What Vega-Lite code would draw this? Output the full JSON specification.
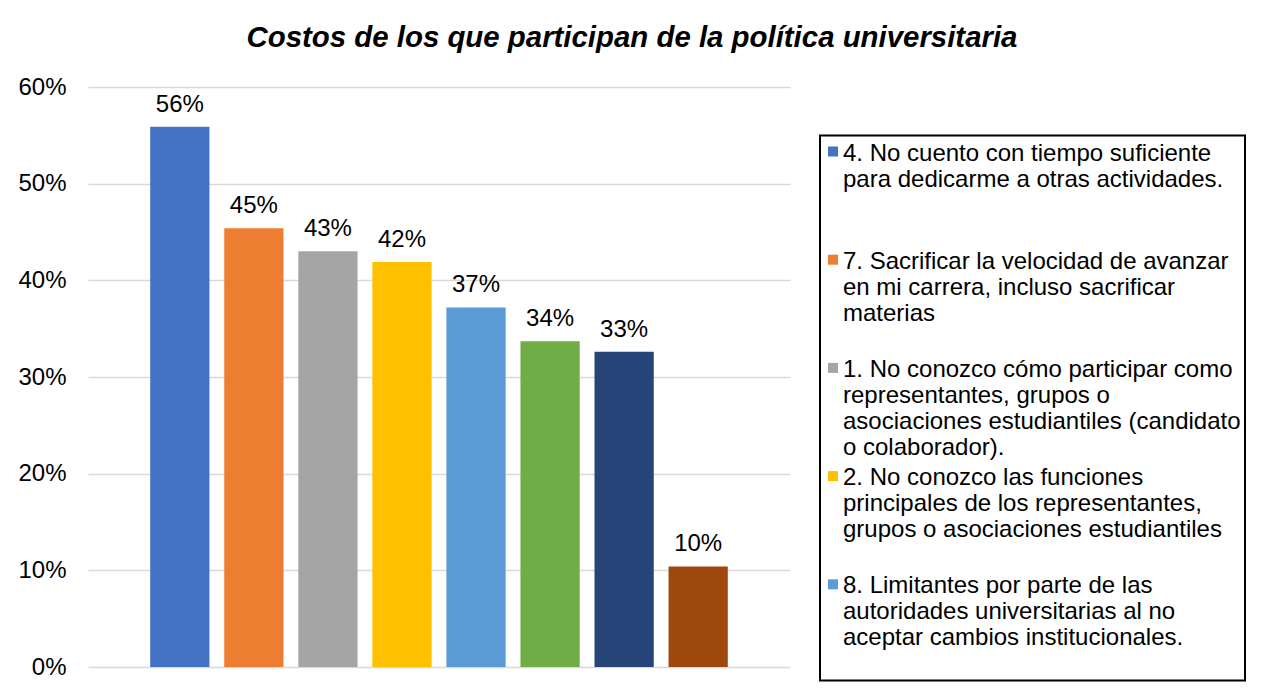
{
  "$schema": "https://vega.github.io/schema/vega-lite/v6.json",
  "width": 702,
  "height": 580,
  "autosize": "none",
  "padding": {"left": 88, "top": 87, "right": 473, "bottom": 30},
  "background": "white",
  "title": {
    "text": "Costos de los que participan de la política universitaria",
    "anchor": "middle",
    "frame": "bounds",
    "font": "Liberation Sans",
    "fontSize": 29.4,
    "fontWeight": "bold",
    "fontStyle": "italic",
    "color": "black",
    "offset": 22
  },
  "data": {
    "values": [
      {"costo": "4. No cuento con tiempo suficiente|para dedicarme a otras actividades.", "porcentaje": 0.559},
      {"costo": "7. Sacrificar la velocidad de avanzar|en mi carrera, incluso sacrificar|materias", "porcentaje": 0.454},
      {"costo": "1. No conozco cómo participar como|representantes, grupos o|asociaciones estudiantiles (candidato|o colaborador).", "porcentaje": 0.430},
      {"costo": "2. No conozco las funciones|principales de los representantes,|grupos o asociaciones estudiantiles", "porcentaje": 0.419},
      {"costo": "8. Limitantes por parte de las|autoridades universitarias al no|aceptar cambios institucionales.", "porcentaje": 0.372},
      {"costo": "3.", "porcentaje": 0.337},
      {"costo": "5.", "porcentaje": 0.326},
      {"costo": "6.", "porcentaje": 0.104}
    ]
  },
  "encoding": {
    "x": {
      "field": "costo",
      "type": "nominal",
      "sort": null,
      "axis": null,
      "scale": {"paddingInner": 0.2, "paddingOuter": 0.84}
    },
    "y": {
      "field": "porcentaje",
      "type": "quantitative",
      "scale": {"domain": [0, 0.6]},
      "axis": {
        "title": null,
        "format": ".0%",
        "values": [0, 0.1, 0.2, 0.3, 0.4, 0.5, 0.6],
        "domain": false,
        "ticks": false,
        "labelPadding": 22,
        "labelFont": "Liberation Sans",
        "labelFontSize": 24,
        "labelColor": "black",
        "gridColor": "#D9D9D9",
        "gridWidth": 1.5
      }
    }
  },
  "layer": [
    {
      "mark": {"type": "bar"},
      "encoding": {
        "color": {
          "field": "costo",
          "type": "nominal",
          "sort": null,
          "scale": {
            "range": ["#4472C4", "#ED7D31", "#A5A5A5", "#FFC000", "#5B9BD5", "#70AD47", "#264478", "#9E480E"]
          },
          "legend": {
            "orient": "none",
            "legendX": 732,
            "legendY": 48.5,
            "title": null,
            "values": [
              "4. No cuento con tiempo suficiente|para dedicarme a otras actividades.",
              "7. Sacrificar la velocidad de avanzar|en mi carrera, incluso sacrificar|materias",
              "1. No conozco cómo participar como|representantes, grupos o|asociaciones estudiantiles (candidato|o colaborador).",
              "2. No conozco las funciones|principales de los representantes,|grupos o asociaciones estudiantiles",
              "8. Limitantes por parte de las|autoridades universitarias al no|aceptar cambios institucionales."
            ],
            "symbolType": "square",
            "symbolSize": 100,
            "symbolStrokeWidth": 0,
            "symbolOffset": -3,
            "labelFont": "Liberation Sans",
            "labelFontSize": 24,
            "labelColor": "black",
            "labelLimit": 600,
            "labelBaseline": "top",
            "labelLineHeight": 27.1,
            "labelOffset": -2,
            "labelExpr": "slice(split(datum.label + '||||', '|'), 0, 4)",
            "rowPadding": 4.2,
            "padding": 4,
            "strokeColor": "black",
            "fillColor": "white",
            "encode": {
              "labels": {"update": {"dy": {"value": -10}}},
              "legend": {"update": {"strokeWidth": {"value": 2}}}
            }
          }
        }
      }
    },
    {
      "mark": {
        "type": "text",
        "baseline": "alphabetic",
        "dy": -15,
        "font": "Liberation Sans",
        "fontSize": 24,
        "color": "black"
      },
      "encoding": {
        "text": {"field": "porcentaje", "type": "quantitative", "format": ".0%"}
      }
    }
  ],
  "config": {"view": {"stroke": null}}
}
